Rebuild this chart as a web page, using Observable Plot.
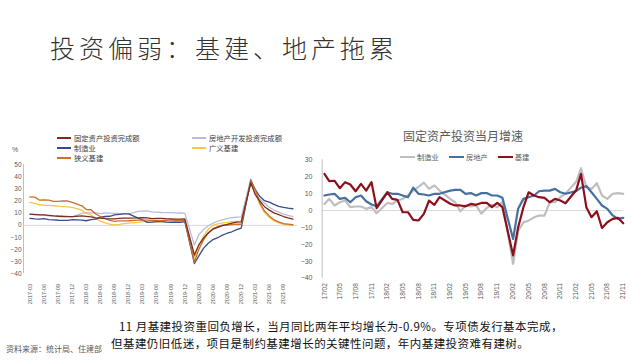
<!DOCTYPE html>
<html><head><meta charset="utf-8">
<script src="https://cdn.jsdelivr.net/npm/d3@7"></script>
<script src="https://cdn.jsdelivr.net/npm/@observablehq/plot@0.6"></script>
<style>
body{margin:0;background:#fff;}
#page{position:relative;width:640px;height:360px;overflow:hidden;font-family:"Noto Sans CJK SC","Noto Sans",sans-serif;}
.abs{position:absolute;white-space:nowrap;}
#title{left:50px;top:35px;font-size:25px;line-height:25px;letter-spacing:4px;color:#333;font-weight:300;}
#pct{left:12px;top:146px;font-size:7px;line-height:8px;color:#595959;font-family:"Liberation Sans",sans-serif;}
.leg{font-size:7.3px;line-height:10px;color:#404040;display:flex;align-items:center;}
.sw{display:inline-block;width:14px;height:2px;margin-right:3px;}
#rtitle{left:363px;top:128px;width:200px;text-align:center;font-size:12px;line-height:16px;color:#595959;}
#rleg{left:400px;top:152px;display:flex;align-items:center;font-size:7.3px;line-height:10px;color:#595959;}
#rleg .it{display:flex;align-items:center;margin-right:10px;}
#rleg .sw{width:15px;height:2.5px;margin-right:2px;}
#leftc{left:0;top:155px;}
#rightc{left:300px;top:150px;}
#leftc svg [aria-label^="x-axis"] text{font-size:5.6px;}
#leftc svg [aria-label^="y-axis"] text{font-size:6.5px;}
#rightc svg [aria-label^="x-axis"] text{font-size:6.5px;}
#rightc svg [aria-label^="y-axis"] text{font-size:7px;}
.cap{font-size:11.5px;line-height:16.7px;letter-spacing:0.45px;color:#111;}
#cap1{left:119px;top:318px;}
#cap2{left:111px;top:334.7px;}
#src{left:6px;top:344px;font-size:8px;line-height:10px;color:#595959;}
</style></head>
<body><div id="page">
<div id="title" class="abs">投资偏弱：基建、地产拖累</div>
<div id="pct" class="abs">%</div>
<div id="leftleg"></div>
<div id="leftc" class="abs"></div>
<div id="rtitle" class="abs">固定资产投资当月增速</div>
<div id="rleg" class="abs"></div>
<div id="rightc" class="abs"></div>
<div id="cap1" class="abs cap">11 月基建投资重回负增长，当月同比两年平均增长为-0.9%。专项债发行基本完成，</div>
<div id="cap2" class="abs cap">但基建仍旧低迷，项目是制约基建增长的关键性问题，年内基建投资难有建树。</div>
<div id="src" class="abs">资料来源：统计局、住建部</div>
</div>
<script>
// ---------- Left chart data (cumulative YoY, %) ----------
const leftMonths = ["2017-03","2017-04","2017-05","2017-06","2017-07","2017-08","2017-09","2017-10","2017-11","2017-12",
"2018-02","2018-03","2018-04","2018-05","2018-06","2018-07","2018-08","2018-09","2018-10","2018-11","2018-12",
"2019-02","2019-03","2019-04","2019-05","2019-06","2019-07","2019-08","2019-09","2019-10","2019-11","2019-12",
"2020-02","2020-03","2020-04","2020-05","2020-06","2020-07","2020-08","2020-09","2020-10","2020-11","2020-12",
"2021-02","2021-03","2021-04","2021-05","2021-06","2021-07","2021-08","2021-09","2021-10","2021-11"];
const leftSeriesNames = ["固定资产投资完成额","房地产开发投资完成额","制造业","广义基建","狭义基建"];
const faiTotal = [9.2,8.9,8.6,8.6,8.3,7.8,7.5,7.3,7.2,7.2,
 7.9,7.5,7.0,6.1,6.0,5.5,5.3,5.4,5.7,5.9,5.9,
 6.1,6.3,6.1,5.6,5.8,5.7,5.5,5.4,5.2,5.2,5.4,
 -24.5,-16.1,-10.3,-6.3,-3.1,-1.6,-0.3,0.8,1.8,2.6,2.9,
 35.0,25.6,19.9,15.4,12.6,10.3,8.9,7.3,6.1,5.2];
const realEstateCum = [9.1,9.3,8.8,8.5,7.9,7.9,8.1,7.8,7.5,7.0,
 9.9,10.4,10.3,10.2,9.7,10.2,10.1,9.9,9.7,9.7,9.5,
 11.6,11.8,11.9,11.2,10.9,10.6,10.5,10.5,10.3,10.2,9.9,
 -16.3,-7.7,-3.3,-0.3,1.9,3.4,4.6,5.6,6.3,6.8,7.0,
 38.3,25.6,21.6,18.3,15.0,12.7,10.9,9.3,8.2,7.3];
const manufacturingCum = [5.8,5.3,5.1,5.5,4.8,4.5,4.2,4.1,4.1,4.8,
 4.3,3.8,4.8,5.2,6.8,7.3,7.5,8.7,9.1,9.5,9.5,
 5.9,4.6,2.5,2.7,3.0,3.3,2.6,2.5,2.6,2.5,3.1,
 -31.5,-25.2,-18.8,-14.8,-11.7,-10.2,-8.1,-6.5,-5.3,-3.5,-2.2,
 37.3,29.8,23.8,20.4,19.2,17.3,15.7,14.8,14.2,13.7];
const broadInfraCum = [19.0,18.2,17.0,16.7,16.5,16.2,15.8,15.5,15.2,14.8,
 12.5,10.0,8.5,5.5,3.5,2.0,1.0,0.3,0.8,1.5,1.8,
 2.5,3.0,3.0,2.6,2.9,2.9,3.2,3.4,3.1,3.5,3.3,
 -26.9,-16.4,-8.8,-3.3,0.1,1.2,2.0,2.4,3.0,3.3,3.4,
 35.0,26.9,17.0,10.5,6.5,3.9,2.0,0.8,0.4,0.2];
const narrowInfraCum = [23.5,23.3,20.9,21.1,20.9,19.8,19.8,20.1,20.1,19.0,
 16.1,13.0,12.9,9.4,7.3,5.7,4.2,3.3,3.7,3.7,3.8,
 4.3,4.4,4.4,4.0,4.1,3.8,4.2,4.5,4.2,4.0,3.8,
 -30.3,-19.7,-11.8,-6.3,-2.7,-1.0,0.2,0.2,0.7,1.0,0.9,
 36.6,29.7,18.4,11.8,7.8,4.6,2.9,1.5,1.0,0.5];
const leftXTicks = ["2017-03","2017-06","2017-09","2017-12","2018-03","2018-06","2018-09","2018-12","2019-03","2019-06","2019-09","2019-12","2020-03","2020-06","2020-09","2020-12","2021-03","2021-06","2021-09"];
const leftYTicks = [-40,-30,-20,-10,0,10,20,30,40,50];

// ---------- Right chart data (monthly YoY, %) ----------
const rightMonths = ["2017-02","2017-03","2017-04","2017-05","2017-06","2017-07","2017-08","2017-09","2017-10","2017-11","2017-12",
"2018-02","2018-03","2018-04","2018-05","2018-06","2018-07","2018-08","2018-09","2018-10","2018-11","2018-12",
"2019-02","2019-03","2019-04","2019-05","2019-06","2019-07","2019-08","2019-09","2019-10","2019-11","2019-12",
"2020-02","2020-03","2020-04","2020-05","2020-06","2020-07","2020-08","2020-09","2020-10","2020-11","2020-12",
"2021-02","2021-03","2021-04","2021-05","2021-06","2021-07","2021-08","2021-09","2021-10","2021-11"];
const rightSeriesNames = ["制造业","房地产","基建"];
const manufacturingMonthly = [3.9,6.9,3.0,4.9,5.9,2.0,2.4,2.4,1.0,2.0,-1.6,
 4.5,3.9,5.9,6.9,8.9,11.8,14.0,16.5,12.8,14.8,11.8,
 6.9,4.9,-0.5,3.0,2.5,3.0,-1.8,1.5,3.5,2.0,5.0,
 -31.5,-12.0,-7.0,-6.0,-4.0,-3.0,-3.0,5.0,5.0,8.0,10.0,
 17.0,25.0,13.8,12.8,16.2,8.9,6.9,9.9,10.3,9.9];
const realEstateMonthly = [8.9,9.5,9.9,6.9,7.5,4.9,7.9,8.9,5.5,3.6,2.5,
 10.8,9.9,9.9,8.9,7.9,13.5,9.9,9.5,8.9,9.9,9.9,
 11.8,12.2,12.2,9.9,10.3,8.9,10.3,10.3,8.9,8.9,7.5,
 -16.8,1.0,6.9,7.9,8.9,11.4,11.8,11.8,12.8,10.8,9.9,
 11.5,13.5,14.5,10.8,6.9,3.0,1.0,-2.9,-4.9,-4.3];
const infraMonthly = [21.7,17.4,17.6,13.2,16.8,15.4,11.4,15.8,11.8,16.8,1.4,
 10.8,6.9,6.3,-1.0,-1.0,-5.5,-5.9,-2.0,5.9,3.4,7.9,
 4.0,3.0,3.0,2.5,3.9,3.4,4.5,4.5,2.0,4.5,2.0,
 -26.5,-10.0,2.0,10.8,8.9,7.9,7.5,4.9,6.9,5.9,4.3,
 12.0,21.7,2.0,-3.9,-0.4,-10.3,-6.9,-4.9,-4.3,-7.5];
const rightXTicks = ["2017-02","2017-05","2017-08","2017-11","2018-02","2018-05","2018-08","2018-11","2019-02","2019-05","2019-08","2019-11","2020-02","2020-05","2020-08","2020-11","2021-02","2021-05","2021-08","2021-11"];
const rightYTicks = [-40,-30,-20,-10,0,10,20,30];

// ---------- styles ----------
const leftColors = ["#7B2D1F","#B8BCDC","#3B4B8A","#F6C744","#C8702C"];
const rightColors = ["#BFBFBF","#44719E","#8C0F1C"];

const pm = d3.utcParse("%Y-%m");
const pd = d3.utcParse("%Y-%m-%d");

// left legend
const leftLeg = document.getElementById("leftleg");
const colX = [57, 192], rowY = [133, 143, 153];
leftSeriesNames.forEach((n, i) => {
  const d = document.createElement("div");
  d.className = "abs leg";
  d.style.left = colX[i % 2] + "px";
  d.style.top = rowY[Math.floor(i / 2)] + "px";
  d.innerHTML = `<span class="sw" style="background:${leftColors[i]}"></span>${n}`;
  leftLeg.appendChild(d);
});
// right legend
const rLeg = document.getElementById("rleg");
rightSeriesNames.forEach((n, i) => {
  const d = document.createElement("div");
  d.className = "it";
  d.innerHTML = `<span class="sw" style="background:${rightColors[i]}"></span>${n}`;
  rLeg.appendChild(d);
});

// left chart
const leftArrays = [faiTotal, realEstateCum, manufacturingCum, broadInfraCum, narrowInfraCum];
const leftOrder = [1, 3, 2, 4, 0];
const leftRows = [];
leftOrder.forEach(k => leftMonths.forEach((m, i) => leftRows.push({series: leftSeriesNames[k], date: pm(m), value: leftArrays[k][i]})));
const leftStart = pd("2017-01-18");
const leftPlot = Plot.plot({
  width: 300, height: 155,
  marginLeft: 23, marginRight: 3, marginTop: 9.3, marginBottom: 36.7,
  style: {fontFamily: "'Liberation Sans', Arial, sans-serif", color: "#595959", background: "transparent", overflow: "visible"},
  x: {type: "utc", domain: [leftStart, pd("2021-12-01")], ticks: leftXTicks.map(pm), tickFormat: d3.utcFormat("%Y-%m"), tickRotate: -90, tickSize: 0, tickPadding: 10, label: null},
  y: {domain: [-40, 50], ticks: leftYTicks, tickSize: 0, tickPadding: 2, label: null},
  color: {domain: leftSeriesNames, range: leftColors},
  marks: [
    Plot.ruleY([0], {stroke: "#D9D9D9", strokeWidth: 1}),
    Plot.ruleX([leftStart], {stroke: "#BFBFBF", strokeWidth: 1}),
    Plot.line(leftRows, {x: "date", y: "value", z: "series", stroke: "series", strokeWidth: 1.3})
  ]
});
document.getElementById("leftc").appendChild(leftPlot);

// right chart
const rightArrays = [manufacturingMonthly, realEstateMonthly, infraMonthly];
const rightRows = [];
rightArrays.forEach((arr, k) => rightMonths.forEach((m, i) => rightRows.push({series: rightSeriesNames[k], date: pm(m), value: arr[i]})));
const rightStart = pd("2017-01-19");
const rightPlot = Plot.plot({
  width: 340, height: 160,
  marginLeft: 21.7, marginRight: 17.3, marginTop: 9.3, marginBottom: 32.3,
  style: {fontFamily: "'Liberation Sans', Arial, sans-serif", color: "#595959", background: "transparent", overflow: "visible"},
  x: {type: "utc", domain: [rightStart, pd("2021-11-01")], ticks: rightXTicks.map(pm), tickFormat: d3.utcFormat("%y/%m"), tickRotate: -90, tickSize: 0, tickPadding: 5, label: null},
  y: {domain: [-40, 30], ticks: rightYTicks, tickSize: 0, tickPadding: 9.7, label: null},
  color: {domain: rightSeriesNames, range: rightColors},
  marks: [
    Plot.ruleY([0], {stroke: "#D9D9D9", strokeWidth: 1}),
    Plot.ruleX([rightStart], {stroke: "#BFBFBF", strokeWidth: 1}),
    Plot.line(rightRows, {x: "date", y: "value", z: "series", stroke: "series", strokeWidth: 2.2})
  ]
});
document.getElementById("rightc").appendChild(rightPlot);
</script>
</body></html>
